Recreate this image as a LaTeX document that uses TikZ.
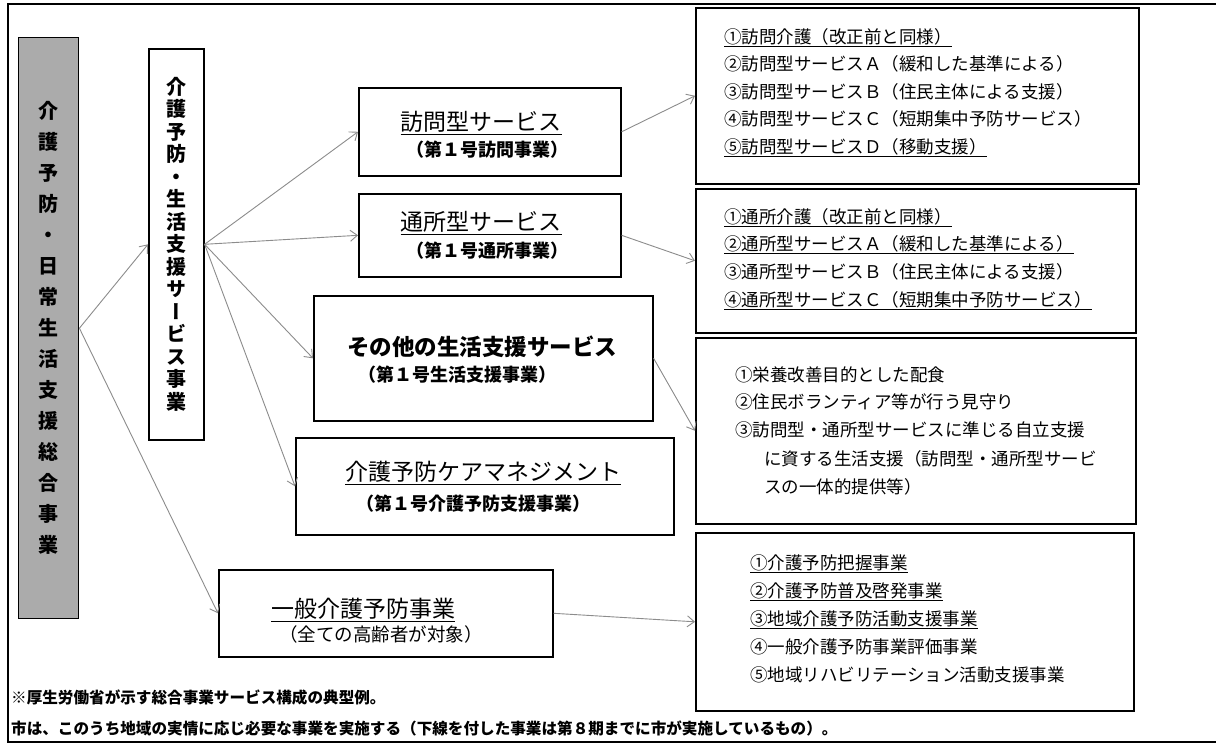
\documentclass[tikz,border=0pt]{standalone}
\usepackage{fontspec}
\usepackage{graphicx}
\setmainfont{Noto Sans CJK JP}
\newfontfamily\vjp[RawFeature=+vert]{Noto Sans CJK JP}
\usetikzlibrary{arrows.meta}
\definecolor{arrowgray}{HTML}{8C8C8C}
\definecolor{boxgray}{HTML}{ABABAB}
\begin{document}
\begin{tikzpicture}[x=1pt,y=-1pt,
  box/.style={draw=black, line width=1.6pt, fill=white, inner sep=0pt, anchor=north west},
  arr/.style={draw=arrowgray, line width=0.9pt, -{Straight Barb[length=7pt,width=11pt]}},
  ttl/.style={inner sep=0pt, text height=20pt, text depth=3pt, font=\fontsize{23pt}{27pt}\selectfont},
  sub/.style={inner sep=0pt, text height=16pt, text depth=2pt, font=\bfseries\fontsize{18pt}{22pt}\selectfont},
  item/.style={inner sep=0pt, anchor=west, text height=15pt, text depth=2pt, font=\fontsize{17.5pt}{21pt}\selectfont},
  foot/.style={inner sep=0pt, anchor=west, text height=13.5pt, text depth=2pt, font=\bfseries\fontsize{15.6pt}{19pt}\selectfont},
  vtext/.style={inner sep=0pt, align=center}
]
\useasboundingbox (0,0) rectangle (1216,745);
\fill[white] (0,0) rectangle (1216,745);
% outer frame
\draw[line width=1.5pt] (1216,4) -- (8,4) -- (8,742) -- (1216,742);

% left vertical boxes
\node[box, fill=boxgray, line width=1.4pt, minimum width=60pt, minimum height=581pt] (gbox) at (18,37) {};
\node[vtext, font=\vjp\bfseries\fontsize{20pt}{31pt}\selectfont] (gtext) at (gbox.center)
  {介\\護\\予\\防\\・\\日\\常\\生\\活\\支\\援\\総\\合\\事\\業};
\node[box, minimum width=55pt, minimum height=391pt] (vbox) at (148,48) {};
\node[vtext, font=\vjp\bfseries\fontsize{20pt}{22.5pt}\selectfont] (vtext) at (vbox.center)
  {介\\護\\予\\防\\・\\生\\活\\支\\援\\サ\\ー\\ビ\\ス\\事\\業};

% middle boxes
\node[box, minimum width=262pt, minimum height=88pt] (houmon) at (358,87) {};
\node[ttl] (houmonT) at (481,122) {\underline{訪問型サービス}};
\node[sub] (houmonS) at (487,149) {（第１号訪問事業）};

\node[box, minimum width=262pt, minimum height=83pt] (tsusho) at (358,193) {};
\node[ttl] (tsushoT) at (481,222) {\underline{通所型サービス}};
\node[sub] (tsushoS) at (487,250) {（第１号通所事業）};

\node[box, minimum width=339pt, minimum height=125pt] (sonota) at (313,295) {};
\node[ttl, font=\bfseries\fontsize{22.5pt}{27pt}\selectfont] (sonotaT) at (482,347) {その他の生活支援サービス};
\node[sub] (sonotaS) at (457,374) {（第１号生活支援事業）};

\node[box, minimum width=378pt, minimum height=97pt] (keamane) at (295,437) {};
\node[ttl] (keamaneT) at (483,472) {\underline{介護予防ケアマネジメント}};
\node[sub] (keamaneS) at (473,503) {（第１号介護予防支援事業）};

\node[box, minimum width=334pt, minimum height=87pt] (ippan) at (218,569) {};
\node[ttl] (ippanT) at (363,609) {\underline{一般介護予防事業}};
\node[sub, font=\fontsize{18.5pt}{22pt}\selectfont] (ippanS) at (381,634) {（全ての高齢者が対象）};

% right list boxes
\node[box, minimum width=443pt, minimum height=176pt] (list1) at (695,7) {};
\node[item] (l1a) at (724,37) {\underline{①訪問介護（改正前と同様）}};
\node[item] (l1b) at (724,64) {②訪問型サービスＡ（緩和した基準による）};
\node[item] (l1c) at (724,92) {③訪問型サービスＢ（住民主体による支援）};
\node[item] (l1d) at (724,119) {④訪問型サービスＣ（短期集中予防サービス）};
\node[item] (l1e) at (724,147) {\underline{⑤訪問型サービスＤ（移動支援）}};

\node[box, minimum width=440pt, minimum height=144pt] (list2) at (695,188) {};
\node[item] (l2a) at (724,217) {\underline{①通所介護（改正前と同様）}};
\node[item] (l2b) at (724,244) {\underline{②通所型サービスＡ（緩和した基準による）}};
\node[item] (l2c) at (724,272) {③通所型サービスＢ（住民主体による支援）};
\node[item] (l2d) at (724,300) {\underline{④通所型サービスＣ（短期集中予防サービス）}};

\node[box, minimum width=440pt, minimum height=186pt] (list3) at (695,337) {};
\node[item] (l3a) at (735,375) {①栄養改善目的とした配食};
\node[item] (l3b) at (735,402) {②住民ボランティア等が行う見守り};
\node[item] (l3c) at (735,430) {③訪問型・通所型サービスに準じる自立支援};
\node[item] (l3d) at (764,459) {に資する生活支援（訪問型・通所型サービ};
\node[item] (l3e) at (764,487) {スの一体的提供等）};

\node[box, minimum width=438pt, minimum height=178pt] (list4) at (695,532) {};
\node[item] (l4a) at (750,563) {\underline{①介護予防把握事業}};
\node[item] (l4b) at (750,591) {\underline{②介護予防普及啓発事業}};
\node[item] (l4c) at (750,619) {\underline{③地域介護予防活動支援事業}};
\node[item] (l4d) at (750,647) {④一般介護予防事業評価事業};
\node[item] (l4e) at (750,675) {⑤地域リハビリテーション活動支援事業};

% footer
\node[foot] (foot1) at (11,698) {※厚生労働省が示す総合事業サービス構成の典型例。};
\node[foot] (foot2) at (11,729) {市は、このうち地域の実情に応じ必要な事業を実施する（下線を付した事業は第８期までに市が実施しているもの）。};

% connectors
\draw[arr] (gbox.east) -- (vbox.west);
\draw[arr] (gbox.east) -- (ippan.west);
\draw[arr] (vbox.east) -- (houmon.west);
\draw[arr] (vbox.east) -- (tsusho.west);
\draw[arr] (vbox.east) -- (sonota.west);
\draw[arr] (vbox.east) -- (keamane.west);
\draw[arr] (houmon.east) -- (list1.west);
\draw[arr] (tsusho.east) -- (list2.west);
\draw[arr] (sonota.east) -- (list3.west);
\draw[arr] (ippan.east) -- (list4.west);
\end{tikzpicture}
\end{document}
